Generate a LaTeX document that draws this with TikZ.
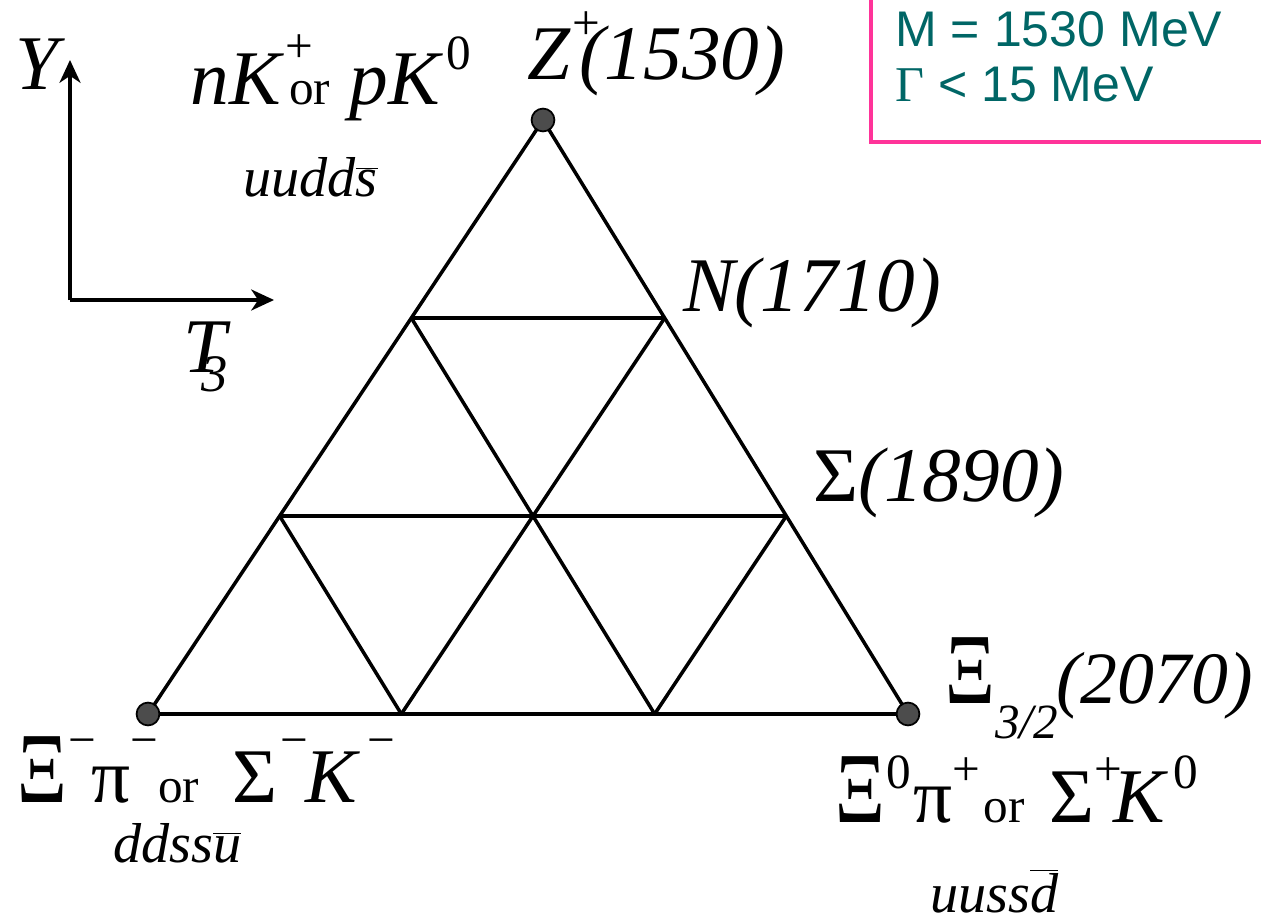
\documentclass[tikz,border=0pt]{standalone}
\usepackage{fontspec}
\setmainfont{Liberation Serif}
\newfontfamily\boxfont{Liberation Sans}
\usetikzlibrary{arrows.meta, calc}
\definecolor{boxpink}{HTML}{FF3399}
\definecolor{boxteal}{HTML}{006666}
\newcommand{\bigtxt}{\fontsize{44}{48}\selectfont}
\newcommand{\ortxt}{\fontsize{28}{30}\selectfont}
\newcommand{\qtxt}{\fontsize{32}{36}\selectfont}
% raised small index: \hi[raise]{text}
\newcommand{\hi}[2][20pt]{\raisebox{#1}{\fontsize{28}{28}\selectfont #2}}
% Xi at full capital height
\newcommand{\bigxi}{\scalebox{1}[1.3]{Ξ}}

\begin{document}
\begin{tikzpicture}[
    x=0.02cm, y=-0.02cm,
    >={Stealth[length=13pt, width=12pt, inset=4pt]},
    edge/.style={line width=2pt},
    axis/.style={->, line width=1.8pt},
    state/.style={circle, draw, fill=black!70, inner sep=0pt, minimum size=13pt, line width=1pt},
    mass/.style={anchor=base west, inner sep=0pt, font=\bigtxt},
    decay/.style={anchor=base west, inner sep=0pt, font=\bigtxt},
    quark/.style={anchor=base west, inner sep=0pt, font=\qtxt\itshape},
    info/.style={anchor=base west, inner sep=0pt, font=\boxfont\fontsize{28.5}{30}\selectfont, text=boxteal},
]
    \useasboundingbox (0,0) rectangle (1261,922);

    % Corners of the weight diagram
    \coordinate (xm) at (148,714);
    \coordinate (xp) at (908,714);
    \coordinate (zp) at (543,120);

    % Points on the edges
    \coordinate (b1) at ($(xm)!1/3!(xp)$);
    \coordinate (b2) at ($(xm)!2/3!(xp)$);
    \coordinate (l1) at ($(xm)!1/3!(zp)$);
    \coordinate (l2) at ($(xm)!2/3!(zp)$);
    \coordinate (r1) at ($(xp)!1/3!(zp)$);
    \coordinate (r2) at ($(xp)!2/3!(zp)$);

    % Triangle and inner lines
    \draw[edge] (xm) -- (xp) -- (zp) -- cycle;
    \draw[edge] (l1) -- (r1);
    \draw[edge] (l2) -- (r2);
    \draw[edge] (b1) -- (l1);
    \draw[edge] (b1) -- (r2);
    \draw[edge] (b2) -- (l2);
    \draw[edge] (b2) -- (r1);

    % Occupied corners
    \node[state] (dotxm) at (xm) {};
    \node[state] (dotxp) at (xp) {};
    \node[state] (dotzp) at (zp) {};

    % Axes
    \coordinate (orig) at (70,300);
    \coordinate (ytip) at (70,60);
    \coordinate (ttip) at (274,300);
    \draw[axis] (orig) -- (ytip);
    \draw[axis] (orig) -- (ttip);
    \node[mass] (ylab) at (15,90) {\itshape Y};
    \node[mass] (tlab) at (183,372)
        {\itshape T\kern-14pt\raisebox{-11pt}{\fontsize{30}{30}\selectfont 3}};

    % States
    \node[mass] (zlab) at (527,80) {\itshape Z\rlap{\kern1pt\hi[23pt]{\upshape +}}\kern5pt(1530)};
    \node[mass] (nlab) at (683,312) {\itshape N(1710)};
    \node[mass] (slab) at (813,501) {Σ\itshape (1890)};
    \node[mass] (xlab) at (945,703)
        {\bigxi\hi[-20pt]{\itshape 3/2}\kern-1pt\fontsize{42}{46}\selectfont\itshape (2070)};

    % Decay channels
    \node[decay] (ztop) at (190,105)
        {\textit{nK}\rlap{\kern1pt\hi[24pt]{+}}\kern3pt{\ortxt or} \textit{pK}\kern2pt\hi[20pt]{0}};
    \node[quark] (zq) at (243,197) {uudd$\overline{\textit{s}}$};
    \node[decay] (xmdec) at (17,802)
        {\bigxi\kern1pt\hi[26pt]{−}\kern-3pt π\hi[26pt]{−}{\ortxt or} \kern8pt Σ\kern2pt\hi[26pt]{−}\kern-2pt\textit{K}\kern4pt\hi[26pt]{−}};
    \node[quark] (xmq) at (113,862) {ddss$\overline{\textit{u}}$};
    \node[decay] (xpdec) at (835,822)
        {\bigxi\kern1pt\hi[19pt]{0}\kern1ptπ\hi[21pt]{+}{\ortxt\kern2pt or} \kern3pt Σ\hi[21pt]{+}\kern-5pt\textit{K}\kern3pt\hi[19pt]{0}};
    \node[quark] (xpq) at (930,912) {uuss$\overline{\textit{d}}$};

    % Mass and width box
    \draw[boxpink, line width=2.8pt] (871,-10) rectangle (1280,142);
    \node[info] (mval) at (895,47) {M = 1530 MeV};
    \node[info] (gval) at (895,102) {{\rmfamily Γ} < 15 MeV};
\end{tikzpicture}
\end{document}
